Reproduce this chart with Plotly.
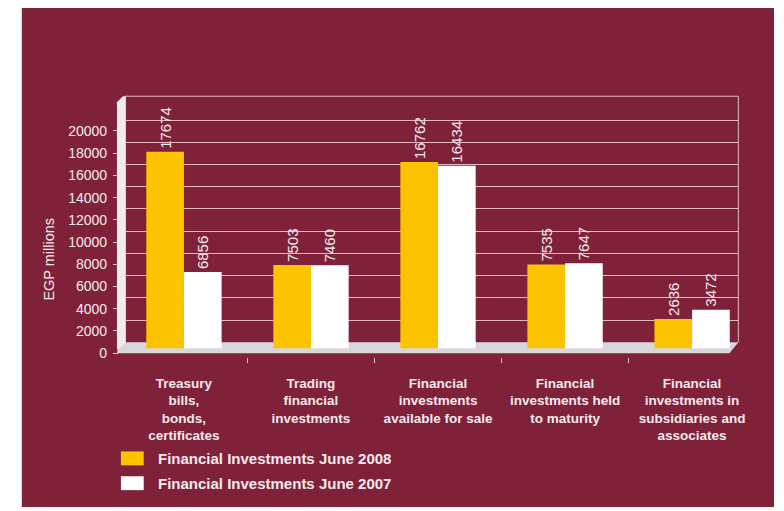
import plotly.graph_objects as go

# ---- data -------------------------------------------------------------
categories = [
    "Treasury<br>bills,<br>bonds,<br>certificates",
    "Trading<br>financial<br>investments",
    "Financial<br>investments<br>available for sale",
    "Financial<br>investments held<br>to maturity",
    "Financial<br>investments in<br>subsidiaries and<br>associates",
]
values_2008 = [17674, 7503, 16762, 7535, 2636]
values_2007 = [6856, 7460, 16434, 7647, 3472]
series_names = ["Financial Investments June 2008", "Financial Investments June 2007"]
y_ticks = list(range(0, 20001, 2000))
y_tick_labels = [str(v) for v in y_ticks]

# ---- styling ----------------------------------------------------------
MAROON = "#7f2139"
YELLOW = "#fcc400"
WHITE = "#ffffff"
TEXT = "#f6e9ed"
GRID = "rgba(238,200,212,0.9)"
FONT = "Liberation Sans, Arial, sans-serif"

W, H = 784, 511


def px(x):
    return x / W


def py(y):
    return 1 - y / H


# vertical scale shared by bars, back-wall grid and tick labels (pixels per unit)
PX_PER_UNIT = 0.0112
PLOT_TOP, PLOT_BOTTOM = 97, 360
BAR_BASE, GRID_BASE, LABEL_BASE = 351, 345, 356


def yrange(base):
    return [-(PLOT_BOTTOM - base) / PX_PER_UNIT, (base - PLOT_TOP) / PX_PER_UNIT]


def poly(points):
    return "M " + " L ".join(f"{px(x):.5f},{py(y):.5f}" for x, y in points) + " Z"


fig = go.Figure()
for name, vals, color in [(series_names[0], values_2008, YELLOW),
                          (series_names[1], values_2007, WHITE)]:
    fig.add_trace(go.Bar(
        x=categories, y=vals, name=name,
        marker=dict(color=color, line=dict(width=0)),
        text=[str(v) for v in vals], textposition="outside", textangle=-90,
        textfont=dict(family=FONT, size=15, color=TEXT),
        constraintext="none", cliponaxis=False, showlegend=False,
        hoverinfo="skip",
    ))

# empty traces so the back-wall grid axis and the tick-label axis get drawn
for axis in ("y2", "y3"):
    fig.add_trace(go.Scatter(x=[categories[0]], y=[None], yaxis=axis, mode="markers",
                             showlegend=False, hoverinfo="skip"))

shapes = [
    # panel
    dict(type="rect", xref="paper", yref="paper", x0=px(22), x1=px(781), y0=0, y1=py(8),
         fillcolor=MAROON, line=dict(width=0), layer="below"),
    # floor
    dict(type="path", xref="paper", yref="paper",
         path=poly([(120, 345), (745, 345), (736, 356), (118, 356)]),
         fillcolor="#d9d7db", line=dict(width=0), layer="below"),
    # left wall
    dict(type="path", xref="paper", yref="paper",
         path=poly([(118, 103), (124, 97), (127, 97), (127, 345), (120, 352), (118, 352)]),
         fillcolor="#f3ecee", line=dict(width=0), layer="below"),
    # back wall outline
    dict(type="line", xref="paper", yref="paper", x0=px(126), x1=px(745), y0=py(97), y1=py(97),
         line=dict(color=GRID, width=1), layer="below"),
    dict(type="line", xref="paper", yref="paper", x0=px(745), x1=px(745), y0=py(97), y1=py(345),
         line=dict(color=GRID, width=1), layer="below"),
    # legend swatches
    dict(type="rect", xref="paper", yref="paper", x0=px(122), x1=px(145), y0=py(469), y1=py(455),
         fillcolor=YELLOW, line=dict(width=0)),
    dict(type="rect", xref="paper", yref="paper", x0=px(122), x1=px(145), y0=py(494), y1=py(480),
         fillcolor=WHITE, line=dict(width=0)),
]

annotations = [
    dict(text="EGP millions", xref="paper", yref="paper", x=px(39), y=py(261),
         textangle=-90, showarrow=False, font=dict(family=FONT, size=14.5, color=TEXT)),
    dict(text=series_names[0], xref="paper", yref="paper", x=px(157), y=py(462),
         xanchor="left", yanchor="middle", showarrow=False,
         font=dict(family=FONT, size=15, color=TEXT, weight="bold")),
    dict(text=series_names[1], xref="paper", yref="paper", x=px(157), y=py(487),
         xanchor="left", yanchor="middle", showarrow=False,
         font=dict(family=FONT, size=15, color=TEXT, weight="bold")),
]

fig.update_layout(
    width=W, height=H,
    margin=dict(l=0, r=0, t=0, b=0),
    paper_bgcolor="white", plot_bgcolor="rgba(0,0,0,0)",
    barmode="group", bargap=0.407, bargroupgap=0,
    font=dict(family=FONT, color=TEXT),
    shapes=shapes, annotations=annotations,
    xaxis=dict(
        domain=[px(126), px(745)], range=[-0.465, 4.364],
        showgrid=False, zeroline=False, showline=False,
        ticks="outside", tickson="boundaries", ticklen=5, tickcolor="#d8c4cb",
        tickangle=0, ticklabelstandoff=16,
        tickfont=dict(family=FONT, size=13.5, color=TEXT, weight="bold"),
        fixedrange=True,
    ),
    yaxis=dict(
        domain=[py(PLOT_BOTTOM), py(PLOT_TOP)], range=yrange(BAR_BASE),
        showgrid=False, zeroline=False, showticklabels=False, ticks="",
        fixedrange=True,
    ),
    yaxis2=dict(
        overlaying="y", range=yrange(GRID_BASE), tickvals=y_ticks[1:],
        showgrid=True, gridcolor=GRID, gridwidth=1.2,
        zeroline=False, showticklabels=False, ticks="", fixedrange=True,
    ),
    yaxis3=dict(
        overlaying="y", range=yrange(LABEL_BASE),
        tickmode="array", tickvals=y_ticks, ticktext=y_tick_labels,
        anchor="free", position=px(119), side="left",
        showgrid=False, zeroline=False, showline=False,
        ticks="outside", ticklen=5, tickcolor="#d8c4cb", ticklabelstandoff=3,
        tickfont=dict(family=FONT, size=14, color=TEXT), fixedrange=True,
    ),
)

fig.write_html("out.html")
